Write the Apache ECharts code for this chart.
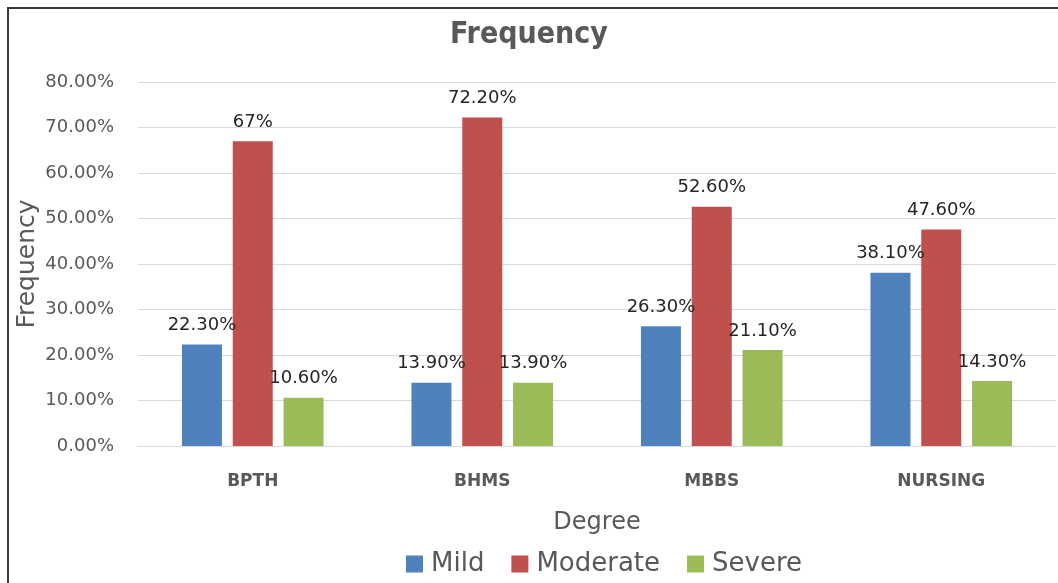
<!DOCTYPE html>
<html>
<head>
<meta charset="utf-8">
<script src="https://cdn.jsdelivr.net/npm/echarts@6/dist/echarts.min.js"></script>
<style>
html,body{margin:0;padding:0;background:#fff;overflow:hidden;}
#frame{position:absolute;left:7px;top:7px;width:1200px;height:700px;border:2px solid #3a3a3a;box-sizing:border-box;}
#chart{position:absolute;left:0;top:0;width:1058px;height:583px;}
</style>
</head>
<body>
<div id="frame"></div>
<div id="chart"></div>
<script>
var categories = ['BPTH', 'BHMS', 'MBBS', 'NURSING'];
var mild = [22.3, 13.9, 26.3, 38.1];
var moderate = [67, 72.2, 52.6, 47.6];
var severe = [10.6, 13.9, 21.1, 14.3];
var mildLabels = ['22.30%', '13.90%', '26.30%', '38.10%'];
var moderateLabels = ['67%', '72.20%', '52.60%', '47.60%'];
var severeLabels = ['10.60%', '13.90%', '21.10%', '14.30%'];
var yTicks = [0, 10, 20, 30, 40, 50, 60, 70, 80];

var font = 'DejaVu Sans';
function mk(name, data, labels, color) {
  return {
    name: name, type: 'bar', data: data, barWidth: 40, barGap: '27%',
    itemStyle: { color: color },
    label: {
      show: true, position: 'top', distance: 10,
      fontFamily: font, fontSize: 18, color: '#262626',
      formatter: function (p) { return labels[p.dataIndex]; }
    }
  };
}
var chart = echarts.init(document.getElementById('chart'));
chart.setOption({
  animation: false,
  backgroundColor: 'transparent',
  title: {
    text: 'Frequency', left: 'center', top: 15,
    textStyle: { fontFamily: '"DejaVu Sans Condensed", "DejaVu Sans"', fontWeight: 'bold', fontSize: 30, color: '#595959' }
  },
  legend: {
    data: ['Mild', 'Moderate', 'Severe'], left: 401, top: 546,
    icon: 'rect', itemWidth: 17, itemHeight: 17, itemGap: 27,
    textStyle: { fontFamily: font, fontSize: 26, color: '#595959', padding: [0, 0, 0, 3] }
  },
  grid: { left: 138, right: 2, top: 82, bottom: 137 },
  xAxis: {
    type: 'category', data: categories,
    name: 'Degree', nameLocation: 'middle', nameGap: 65,
    nameTextStyle: { fontFamily: font, fontSize: 24, color: '#595959' },
    axisLine: { lineStyle: { color: '#d9d9d9', width: 1 } },
    axisTick: { show: false },
    axisLabel: { fontFamily: font, fontWeight: 'bold', fontSize: 17, color: '#595959', margin: 27 }
  },
  yAxis: {
    type: 'value', min: yTicks[0], max: yTicks[yTicks.length - 1], interval: 10,
    name: 'Frequency', nameLocation: 'middle', nameGap: 98, nameMoveOverlap: false,
    nameTextStyle: { fontFamily: font, fontSize: 25, color: '#595959' },
    axisLine: { show: false }, axisTick: { show: false },
    splitLine: { lineStyle: { color: '#d9d9d9', width: 1 } },
    axisLabel: {
      fontFamily: font, fontSize: 18, color: '#595959', margin: 24,
      formatter: function (v) { return v.toFixed(2) + '%'; }
    }
  },
  series: [
    mk('Mild', mild, mildLabels, '#4F81BD'),
    mk('Moderate', moderate, moderateLabels, '#C0504D'),
    mk('Severe', severe, severeLabels, '#9BBB59')
  ]
});
</script>
</body>
</html>
